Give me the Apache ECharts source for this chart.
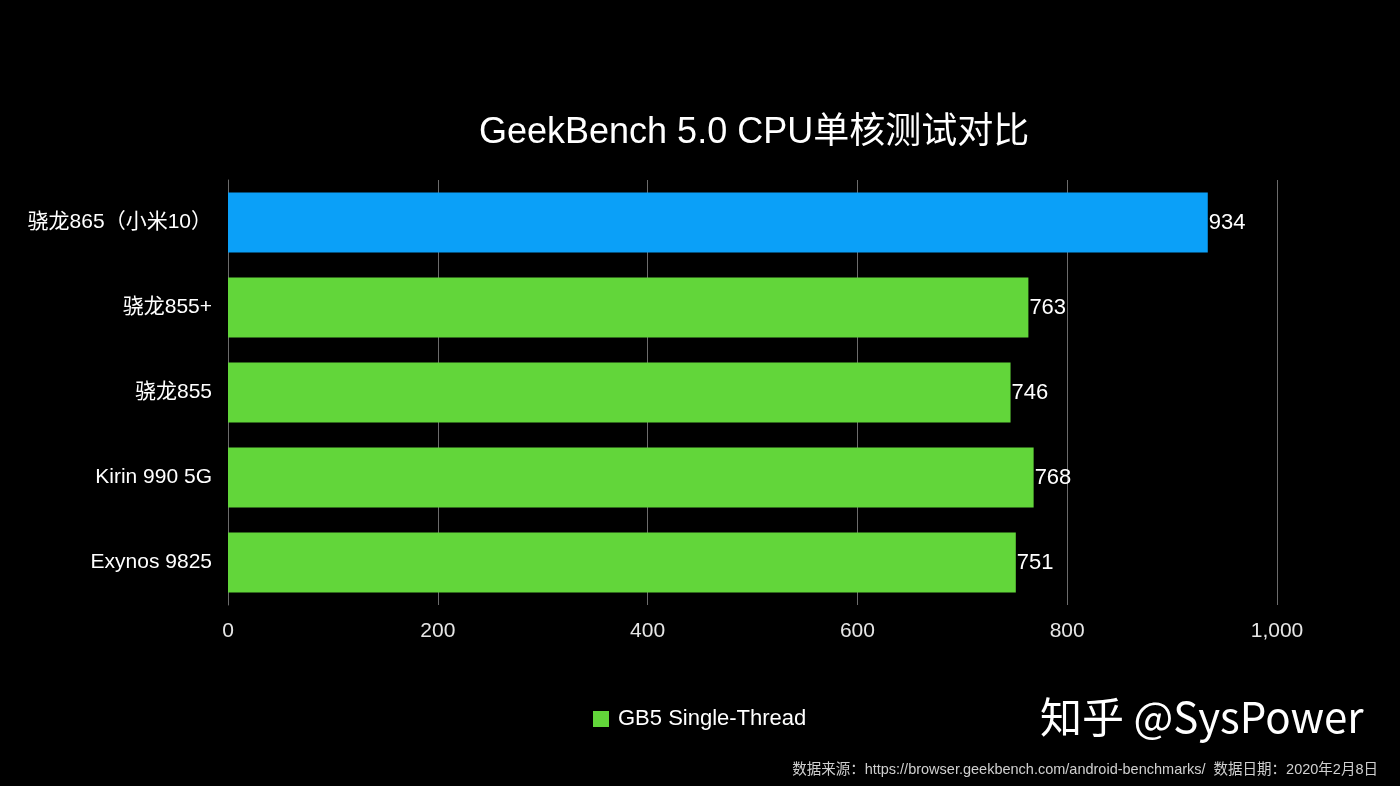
<!DOCTYPE html>
<html>
<head>
<meta charset="utf-8">
<script src="https://cdn.jsdelivr.net/npm/echarts@6/dist/echarts.min.js"></script>
<style>
  html, body { margin: 0; padding: 0; background: #000; }
  #chart { width: 1400px; height: 786px; }
</style>
</head>
<body>
<div id="chart"></div>
<script>
const categories = ['骁龙865（小米10）', '骁龙855+', '骁龙855', 'Kirin 990 5G', 'Exynos 9825']
const scores = [934, 763, 746, 768, 751]
const barColors = ['#0ba0f8', '#62d63a', '#62d63a', '#62d63a', '#62d63a']
const seriesName = 'GB5 Single-Thread'

const FONT = '"Liberation Sans", "Noto Sans CJK SC", sans-serif'

const chart = echarts.init(document.getElementById('chart'))

chart.setOption({
  backgroundColor: '#000',
  animation: false,
  textStyle: { fontFamily: FONT },
  title: {
    text: 'GeekBench 5.0 CPU单核测试对比',
    left: 474,
    top: 110,
    textStyle: { color: '#fff', fontSize: 36, fontWeight: 'normal', fontFamily: FONT },
  },
  legend: {
    data: [{ name: seriesName, itemStyle: { color: '#62d63a' } }],
    left: 588,
    top: 703,
    icon: 'rect',
    itemWidth: 16,
    itemHeight: 16,
    itemGap: 10,
    textStyle: { color: '#fff', fontSize: 22, fontFamily: FONT, padding: [0, 0, 0, 4] },
  },
  grid: { left: 228, top: 180, width: 1049, height: 425, containLabel: false },
  xAxis: {
    type: 'value',
    min: 0,
    max: 1000,
    interval: 200,
    axisLine: { show: false },
    axisTick: { show: false },
    axisLabel: {
      color: '#e6e6e6',
      fontSize: 21,
      margin: 16,
      formatter: v => v.toLocaleString('en-US'),
    },
    splitLine: { show: true, lineStyle: { color: '#6b6b6b', width: 1 } },
  },
  yAxis: {
    type: 'category',
    inverse: true,
    data: categories,
    axisLine: { show: true, lineStyle: { color: '#6b6b6b' } },
    axisTick: { show: false },
    axisLabel: { color: '#fff', fontSize: 21, margin: 16 },
  },
  series: [{
    name: seriesName,
    type: 'bar',
    data: scores.map((v, i) => ({ value: v, itemStyle: { color: barColors[i] } })),
    barWidth: 60,
    itemStyle: { color: '#62d63a' },
    label: {
      show: true,
      position: 'right',
      distance: 1,
      color: '#fff',
      fontSize: 22,
    },
  }],
  graphic: [
    {
      type: 'text',
      left: 1040,
      top: 696,
      style: { text: '知乎 @SysPower', fill: '#fff', fontSize: 42, fontFamily: '"Noto Sans CJK SC", sans-serif' },
    },
    {
      type: 'text',
      right: 22,
      top: 763,
      style: {
        text: '数据来源：https://browser.geekbench.com/android-benchmarks/  数据日期：2020年2月8日',
        fill: '#d0d0d0',
        fontSize: 14.5,
        fontFamily: FONT,
      },
    },
  ],
})
</script>
</body>
</html>
